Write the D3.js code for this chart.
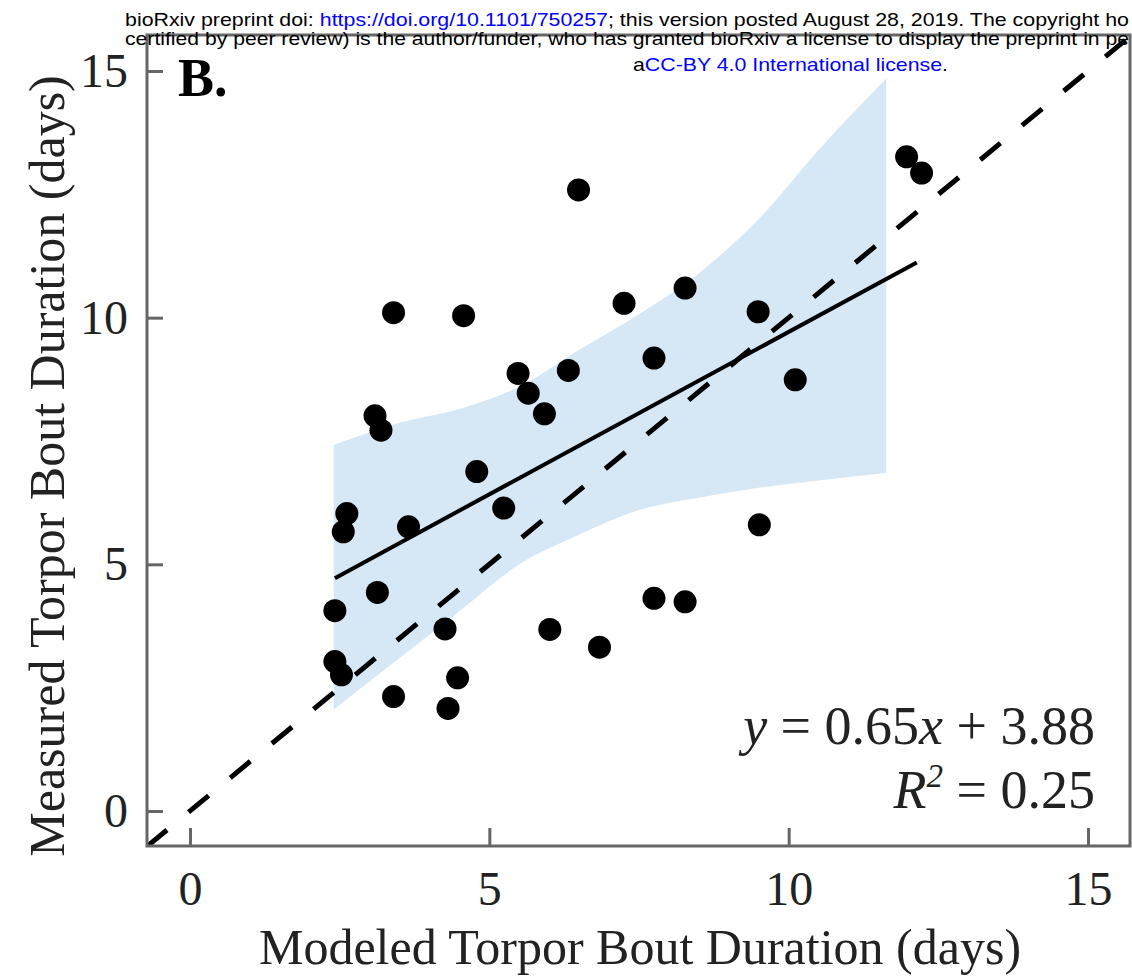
<!DOCTYPE html>
<html><head><meta charset="utf-8">
<script src="https://cdn.jsdelivr.net/npm/d3@7"></script>
<style>
html,body{margin:0;padding:0;background:#fff;}
svg{display:block;}
</style>
</head><body>
<svg id="chart" width="1132" height="978"></svg>
<script>
// ---- data ----
const modeled  = [2.42,2.42,2.53,2.62,2.56,3.13,3.09,3.19,3.40,3.40,3.65,4.26,4.31,4.47,4.57,4.79,5.24,5.48,5.65,5.92,6.01,6.32,6.49,6.84,7.25,7.75,7.75,8.27,8.27,9.49,9.51,10.11,11.97,12.22];
const measured = [4.06,3.03,2.76,6.03,5.66,4.43,8.01,7.72,10.10,2.32,5.76,3.69,2.08,2.70,10.04,6.88,6.14,8.87,8.47,8.05,3.68,8.93,12.59,3.32,10.29,9.18,4.31,10.60,4.24,10.12,5.80,8.74,13.26,12.93];
const bandX     = [2.40,3.5,4.5,5.5,6.5,7.5,8.5,9.5,10.5,11.63];
const bandUpper = [7.42,7.87,8.15,8.6,9.35,10.07,10.9,12.0,13.4,14.85];
const bandLower = [2.05,3.1,4.05,5.0,5.6,6.1,6.35,6.55,6.7,6.85];
const fitX = [2.42,12.14];
const fitY = [4.72,11.12];
const refXY = [-0.72,15.72];
const ticks = [0,5,10,15];
const xTitle = "Modeled Torpor Bout Duration (days)";
const yTitle = "Measured Torpor Bout Duration (days)";
const panelLabel = "B.";

const svg = d3.select("#chart");
const L=147,R=1130,T=35,B=846;
const x = d3.scaleLinear().domain([0,15]).range([190,1088]);
const y = d3.scaleLinear().domain([0,15]).range([811,71]);

svg.append("defs").append("clipPath").attr("id","plotclip")
  .append("rect").attr("x",L).attr("y",T).attr("width",R-L).attr("height",B-T);

const plot = svg.append("g").attr("clip-path","url(#plotclip)");

// CI band
const band = bandX.map((v,i)=>({x:v,lo:bandLower[i],hi:bandUpper[i]}));
plot.append("path").datum(band)
  .attr("fill","#d6e8f6")
  .attr("d", d3.area().x(d=>x(d.x)).y0(d=>y(d.lo)).y1(d=>y(d.hi)).curve(d3.curveMonotoneX));

// 1:1 dashed line
plot.append("line")
  .attr("x1",x(refXY[0])).attr("y1",y(refXY[0]))
  .attr("x2",x(refXY[1])).attr("y2",y(refXY[1]))
  .attr("stroke","#000").attr("stroke-width",5).attr("stroke-dasharray","26,28");

// fit line
plot.append("line")
  .attr("x1",x(fitX[0])).attr("y1",y(fitY[0]))
  .attr("x2",x(fitX[1])).attr("y2",y(fitY[1]))
  .attr("stroke","#000").attr("stroke-width",4);

// points
plot.selectAll("circle.pt").data(modeled.map((v,i)=>[v,measured[i]]))
  .join("circle").attr("class","pt")
  .attr("cx",d=>x(d[0])).attr("cy",d=>y(d[1])).attr("r",11.5).attr("fill","#000");

// frame
svg.append("path")
  .attr("d",`M${L},${T}H${R}V${B}H${L}Z`)
  .attr("fill","none").attr("stroke","#666").attr("stroke-width",3);

// axes
const xAxis = svg.append("g").attr("transform",`translate(0,${B})`)
  .call(d3.axisBottom(x).tickValues(ticks).tickSizeInner(-18).tickSizeOuter(0).tickPadding(25));
const yAxis = svg.append("g").attr("transform",`translate(${L},0)`)
  .call(d3.axisLeft(y).tickValues(ticks).tickSizeInner(-16).tickSizeOuter(0).tickPadding(19));
[xAxis,yAxis].forEach(g=>{
  g.select(".domain").remove();
  g.selectAll(".tick line").attr("stroke","#666").attr("stroke-width",3);
  g.selectAll(".tick text").attr("font-family","Liberation Serif").attr("font-size",48).attr("fill","#222");
});

// titles
svg.append("text").attr("x",640).attr("y",964).attr("text-anchor","middle")
  .attr("font-family","Liberation Serif").attr("font-size",50).attr("fill","#222").text(xTitle);
svg.append("text").attr("transform","translate(64,466) rotate(-90)").attr("text-anchor","middle")
  .attr("font-family","Liberation Serif").attr("font-size",50).attr("fill","#222").text(yTitle);
svg.append("text").attr("x",178).attr("y",96)
  .attr("font-family","Liberation Serif").attr("font-weight","bold").attr("font-size",54).attr("fill","#000").text(panelLabel);

// equation
const eq = svg.append("text").attr("x",1095).attr("y",744).attr("text-anchor","end")
  .attr("font-family","Liberation Serif").attr("font-size",54).attr("fill","#222");
eq.append("tspan").attr("font-style","italic").text("y");
eq.append("tspan").text(" = 0.65");
eq.append("tspan").attr("font-style","italic").text("x");
eq.append("tspan").text(" + 3.88");
const r2 = svg.append("text").attr("x",1095).attr("y",808).attr("text-anchor","end")
  .attr("font-family","Liberation Serif").attr("font-size",54).attr("fill","#222");
r2.append("tspan").attr("font-style","italic").text("R");
r2.append("tspan").attr("font-style","italic").attr("font-size",33).attr("dy",-21).text("2");
r2.append("tspan").attr("dy",21).text(" = 0.25");

// preprint header
const hdr = svg.append("g").attr("font-family","Liberation Sans").attr("font-size",19);
const l1 = hdr.append("text").attr("x",125).attr("y",26).attr("fill","#000");
l1.append("tspan").text("bioRxiv preprint doi: ");
l1.append("tspan").attr("fill","#0000ff").text("https://doi.org/10.1101/750257");
l1.append("tspan").text("; this version posted August 28, 2019. The copyright ho");
const l2 = hdr.append("text").attr("x",125).attr("y",45).attr("fill","#000")
  .text("certified by peer review) is the author/funder, who has granted bioRxiv a license to display the preprint in pe");
const l3 = hdr.append("text").attr("x",633).attr("y",71).attr("fill","#000");
l3.append("tspan").text("a");
l3.append("tspan").attr("fill","#0000ff").text("CC-BY 4.0 International license");
l3.append("tspan").text(".");
l1.attr("textLength",1004).attr("lengthAdjust","spacingAndGlyphs");
l2.attr("textLength",1004).attr("lengthAdjust","spacingAndGlyphs");
l3.attr("textLength",315).attr("lengthAdjust","spacingAndGlyphs");
</script>
</body></html>
